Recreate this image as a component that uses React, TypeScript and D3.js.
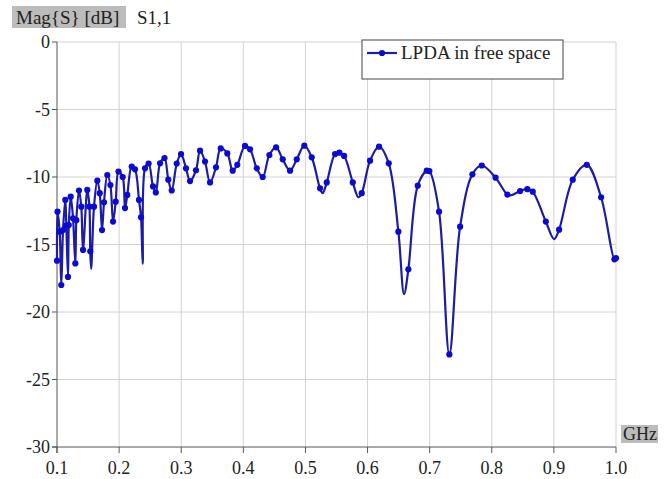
import React from "react";
import * as d3 from "d3";

// Frequency (GHz), magnitude (dB), and whether a marker is drawn at the sample
const freqGHz = [
  0.1, 0.1008, 0.1043, 0.1069, 0.1097, 0.1134, 0.115, 0.1177, 0.119, 0.1221,
  0.1258, 0.1295, 0.1311, 0.1354, 0.1391, 0.1419, 0.1488, 0.1522, 0.1535, 0.155,
  0.1596, 0.1649, 0.1688, 0.1725, 0.1757, 0.181, 0.186, 0.1902, 0.1945, 0.199,
  0.2058, 0.2095, 0.2132, 0.2203, 0.2256, 0.232, 0.2353, 0.238, 0.2417, 0.2475,
  0.2546, 0.2591, 0.2659, 0.2731, 0.2792, 0.2847, 0.2928, 0.2997, 0.3077, 0.3142,
  0.3238, 0.3303, 0.3383, 0.3464, 0.356, 0.3636, 0.3742, 0.3829, 0.3903, 0.4027,
  0.4108, 0.4216, 0.4312, 0.4419, 0.4527, 0.4634, 0.4752, 0.486, 0.4982, 0.5101,
  0.5235, 0.5278, 0.5343, 0.5477, 0.5546, 0.5622, 0.5762, 0.5852, 0.5906, 0.604,
  0.6185, 0.6341, 0.6496, 0.6588, 0.6657, 0.6808, 0.6953, 0.6995, 0.7151, 0.7317,
  0.749, 0.7688, 0.7839, 0.8061, 0.8251, 0.8311, 0.8456, 0.8573, 0.866, 0.887,
  0.9003, 0.9084, 0.9304, 0.953, 0.976, 0.9975, 1.0,
];
const magDB = [
  -16.2, -12.57, -14.05, -18.0, -13.93, -11.7, -13.6, -17.4, -13.56, -11.46,
  -13.06, -16.4, -13.2, -11.0, -12.2, -15.4, -10.96, -12.2, -15.5, -16.8,
  -12.2, -10.27, -11.2, -13.93, -11.87, -9.85, -10.6, -13.3, -11.83, -9.6,
  -10.0, -12.3, -11.33, -9.23, -9.43, -11.7, -12.99, -16.44, -9.36, -9.0,
  -10.7, -11.15, -8.99, -8.6, -10.2, -11.0, -9.0, -8.3, -9.36, -10.3,
  -9.5, -8.05, -8.86, -10.4, -9.28, -7.88, -8.25, -9.53, -9.1, -7.7,
  -7.95, -9.36, -10.0, -8.37, -7.8, -8.69, -9.53, -8.69, -7.68, -8.54,
  -10.84, -11.2, -10.4, -8.3, -8.2, -8.44, -10.4, -11.5, -11.2, -8.79,
  -7.75, -8.99, -14.05, -18.67, -16.84, -10.64, -9.53, -9.56, -12.57, -23.14,
  -13.68, -9.8, -9.15, -10.05, -11.3, -11.35, -11.04, -10.9, -11.09, -13.3,
  -14.6, -13.9, -10.2, -9.1, -11.5, -16.1, -16.0,
];
const hasMarker = [
  1, 1, 1, 1, 1, 1, 1, 1, 1, 1,
  1, 1, 1, 1, 1, 1, 1, 1, 1, 0,
  1, 1, 1, 1, 1, 1, 1, 1, 1, 1,
  1, 1, 1, 1, 1, 1, 1, 0, 1, 1,
  1, 1, 1, 1, 1, 1, 1, 1, 1, 1,
  1, 1, 1, 1, 1, 1, 1, 1, 1, 1,
  1, 1, 1, 1, 1, 1, 1, 1, 1, 1,
  1, 0, 1, 1, 1, 1, 1, 0, 1, 1,
  1, 1, 1, 0, 1, 1, 1, 1, 1, 1,
  1, 1, 1, 1, 1, 0, 1, 1, 1, 1,
  0, 1, 1, 1, 1, 1, 1,
];
const xTicks = [0.1, 0.2, 0.3, 0.4, 0.5, 0.6, 0.7, 0.8, 0.9, 1.0];
const yTicks = [0, -5, -10, -15, -20, -25, -30];
const seriesName = "LPDA in free space";

const W = 672;
const H = 479;
const LEFT = 57;
const RIGHT = 616;
const TOP = 42;
const BOTTOM = 447;

const LINE_COLOR = "#1c1ca6";
const MARK_COLOR = "#0a0ad2";
const FONT = "'Liberation Serif', 'Times New Roman', serif";

export default function App() {
  const x = d3.scaleLinear().domain([0.1, 1.0]).range([LEFT, RIGHT]);
  const y = d3.scaleLinear().domain([-30, 0]).range([BOTTOM, TOP]);

  const pts: [number, number][] = freqGHz.map((f, i) => [f, magDB[i]]);
  const line = d3
    .line<[number, number]>()
    .x((d) => x(d[0]))
    .y((d) => y(d[1]))
    .curve(d3.curveCatmullRom.alpha(0.5));
  const path = line(pts) || "";

  return (
    <svg
      width={W}
      height={H}
      style={{ position: "absolute", left: 0, top: 0, background: "#fff" }}
      fontFamily={FONT}
    >
      <rect x={0} y={0} width={W} height={H} fill="#fff" />
      {/* grid */}
      {xTicks.slice(1).map((t) => (
        <line
          key={"gx" + t}
          x1={x(t)}
          x2={x(t)}
          y1={TOP}
          y2={BOTTOM}
          stroke="#d2d2d2"
          strokeWidth={1}
        />
      ))}
      {yTicks.slice(0, -1).map((t) => (
        <line
          key={"gy" + t}
          x1={LEFT}
          x2={RIGHT}
          y1={y(t)}
          y2={y(t)}
          stroke="#d2d2d2"
          strokeWidth={1}
        />
      ))}
      {/* axes */}
      <line x1={LEFT} x2={LEFT} y1={TOP} y2={BOTTOM + 6} stroke="#555" strokeWidth={1} />
      <line x1={LEFT - 5} x2={RIGHT} y1={BOTTOM} y2={BOTTOM} stroke="#555" strokeWidth={1} />
      {yTicks.map((t) => (
        <g key={"yt" + t}>
          <line x1={LEFT - 5} x2={LEFT} y1={y(t)} y2={y(t)} stroke="#555" />
          <text
            x={LEFT - 7}
            y={y(t)}
            dy="0.35em"
            textAnchor="end"
            fontSize={18}
            fill="#222"
          >
            {t}
          </text>
        </g>
      ))}
      {xTicks.map((t) => (
        <g key={"xt" + t}>
          <line x1={x(t)} x2={x(t)} y1={BOTTOM} y2={BOTTOM + 6} stroke="#555" />
          <text x={x(t)} y={474} textAnchor="middle" fontSize={18} fill="#222">
            {t.toFixed(1)}
          </text>
        </g>
      ))}
      {/* header */}
      <rect x={12} y={6} width={114} height={22} fill="#bcbcbc" />
      <text x={16} y={24} fontSize={19} fill="#222">
        Mag{"{S}"} [dB]
      </text>
      <text x={137} y={24} fontSize={19} fill="#222">
        S1,1
      </text>
      <rect x={621} y={425} width={37} height={18} fill="#bcbcbc" />
      <text x={623} y={440} fontSize={18} fill="#222">
        GHz
      </text>
      {/* series */}
      <path d={path} fill="none" stroke={LINE_COLOR} strokeWidth={2.2} strokeLinejoin="round" />
      {pts.map((d, i) =>
        hasMarker[i] ? (
          <circle key={"m" + i} cx={x(d[0])} cy={y(d[1])} r={3.1} fill={MARK_COLOR} />
        ) : null
      )}
      {/* legend */}
      <rect x={362} y={40} width={201} height={39} fill="#fff" stroke="#444" strokeWidth={1} />
      <line x1={367} x2={397} y1={53} y2={53} stroke={LINE_COLOR} strokeWidth={2.2} />
      <circle cx={382} cy={53} r={3.1} fill={MARK_COLOR} />
      <text x={401} y={59} fontSize={19} fill="#222">
        {seriesName}
      </text>
    </svg>
  );
}
